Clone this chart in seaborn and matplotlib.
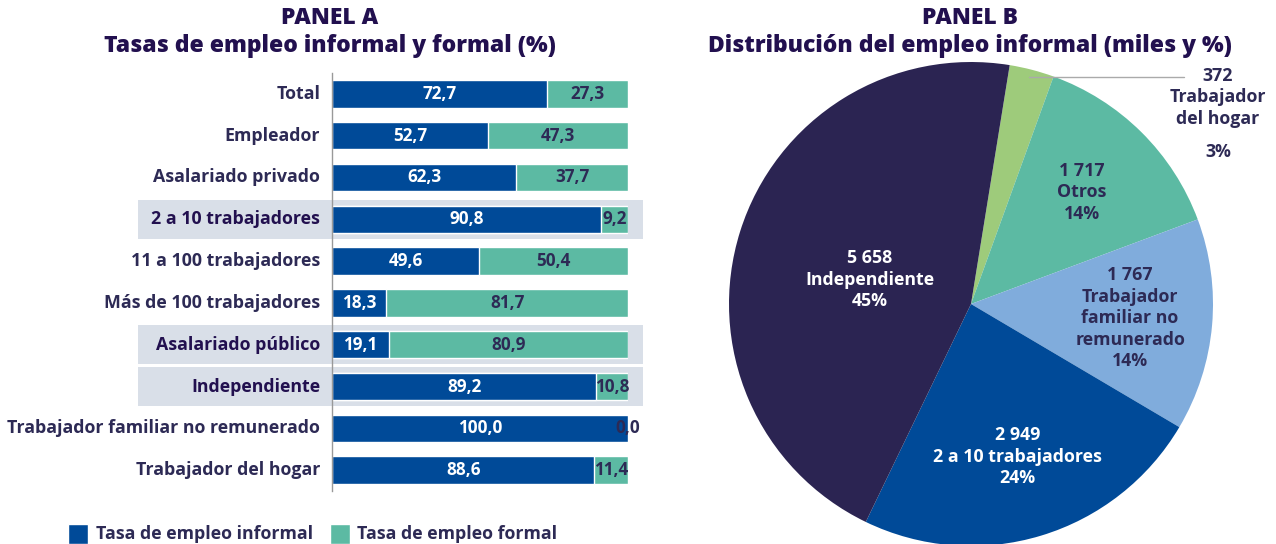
import matplotlib
matplotlib.use("Agg")
import matplotlib.pyplot as plt
import seaborn as sns
import numpy as np
import pandas as pd
from matplotlib.patches import Rectangle

sns.set_style("white")
plt.rcParams['font.family'] = ['Open Sans', 'Noto Sans', 'DejaVu Sans']

# panel A data
categorias = ['Total', 'Empleador', 'Asalariado privado', '2 a 10 trabajadores',
              '11 a 100 trabajadores', 'Más de 100 trabajadores', 'Asalariado público',
              'Independiente', 'Trabajador familiar no remunerado', 'Trabajador del hogar']
informal = [72.7, 52.7, 62.3, 90.8, 49.6, 18.3, 19.1, 89.2, 100.0, 88.6]
formal = [27.3, 47.3, 37.7, 9.2, 50.4, 81.7, 80.9, 10.8, 0.0, 11.4]
resaltadas = ['2 a 10 trabajadores', 'Asalariado público', 'Independiente']

# panel B data
pie_nombres = ['Trabajador\ndel hogar', 'Otros', 'Trabajador\nfamiliar no\nremunerado',
               '2 a 10 trabajadores', 'Independiente']
pie_miles = [372, 1717, 1767, 2949, 5658]
pie_pct = [3, 14, 14, 24, 45]

AZUL = '#004a98'
VERDE = '#5cbaa3'
MORADO = '#22104f'
TXT = '#2d2a55'
pie_colores = ['#9ecb7b', '#5cbaa3', '#80acdc', '#004a98', '#2b2452']

def fmt(v):
    return f'{v:.1f}'.replace('.', ',')

fig = plt.figure(figsize=(12.76, 5.44), dpi=100)

# ---- Panel A ----
ax = fig.add_axes([332/1276, 1 - 491/544, 296/1276, 418/544])
df = pd.DataFrame({'cat': categorias, 'inf': informal, 'for': formal})
df['tot'] = df['inf'] + df['for']
sns.barplot(data=df, x='tot', y='cat', color=VERDE, width=0.66, ax=ax, saturation=1)
sns.barplot(data=df, x='inf', y='cat', color=AZUL, width=0.66, ax=ax, saturation=1)
ax.set_xlim(0, 100)
ax.set_ylim(9.5, -0.5)
ax.set_xlabel('')
ax.set_ylabel('')
ax.set_xticks([])
ax.set_yticks([])
for s in ['top', 'right', 'bottom']:
    ax.spines[s].set_visible(False)
ax.spines['left'].set_color('#999999')
ax.spines['left'].set_linewidth(1)
ax.spines['left'].set_zorder(5)

for i, c in enumerate(categorias):
    hl = c in resaltadas
    if hl:
        ax.add_patch(Rectangle((-65.5, i - 0.46), 170.5, 0.92, facecolor='#d9dfe8',
                               edgecolor='none', clip_on=False, zorder=0))
    ax.text(-4, i, c, ha='right', va='center', fontsize=12.8, fontweight='bold',
            color=MORADO if hl else TXT)
    ax.text(informal[i] / 2, i, fmt(informal[i]), ha='center', va='center',
            fontsize=12.3, fontweight='bold', color='white')
    ax.text(informal[i] + formal[i] / 2, i, fmt(formal[i]), ha='center', va='center',
            fontsize=12.3, fontweight='bold', color=TXT)

fig.text(330/1276, 1 - 18/544, 'PANEL A', ha='center', va='center', fontsize=16.5,
         fontweight='heavy', color=MORADO)
fig.text(330/1276, 1 - 46/544, 'Tasas de empleo informal y formal (%)', ha='center',
         va='center', fontsize=16.5, fontweight='heavy', color=MORADO)

# legend
fig.patches.append(Rectangle((68/1276, 0), 20/1276, 20/544, facecolor=AZUL,
                             transform=fig.transFigure, figure=fig))
fig.text(96/1276, 10/544, 'Tasa de empleo informal', ha='left', va='center',
         fontsize=12.8, fontweight='bold', color=TXT)
fig.patches.append(Rectangle((330/1276, 0), 20/1276, 20/544, facecolor=VERDE,
                             transform=fig.transFigure, figure=fig))
fig.text(357/1276, 10/544, 'Tasa de empleo formal', ha='left', va='center',
         fontsize=12.8, fontweight='bold', color=TXT)

# ---- Panel B ----
axp = fig.add_axes([(971 - 242)/1276, (544 - 304 - 242)/544, 484/1276, 484/544])
wedges, _ = axp.pie(pie_miles, colors=pie_colores, startangle=80.8, counterclock=False,
                    radius=1, wedgeprops=dict(linewidth=0))
axp.set_xlim(-1, 1)
axp.set_ylim(-1, 1)
axp.set_aspect('equal')
axp.axis('off')

radios = [None, 0.65, 0.66, 0.66, 0.43]
giro = [0, 0, 0, 0, 4]
txtcol = [TXT, TXT, TXT, 'white', 'white']
for i, w in enumerate(wedges):
    if radios[i] is None:
        continue
    ang = np.deg2rad((w.theta1 + w.theta2) / 2 + giro[i])
    x, y = radios[i] * np.cos(ang), radios[i] * np.sin(ang)
    miles = f'{pie_miles[i]:,}'.replace(',', ' ')
    axp.text(x, y, f'{miles}\n{pie_nombres[i]}\n{pie_pct[i]}%', ha='center', va='center',
             fontsize=12.8, fontweight='bold', color=txtcol[i], linespacing=1.25)

# small slice label outside
axp.plot([0.24, 0.88], [0.94, 0.94], color='#aaaaaa', lw=1, clip_on=False)
axp.text(1.02, 0.98, f'{pie_miles[0]}\n{pie_nombres[0]}', ha='center', va='top',
         fontsize=12.8, fontweight='bold', color=TXT, linespacing=1.25)
axp.text(1.02, 0.63, f'{pie_pct[0]}%', ha='center', va='center',
         fontsize=12.8, fontweight='bold', color=TXT)

fig.text(970/1276, 1 - 18/544, 'PANEL B', ha='center', va='center', fontsize=16.5,
         fontweight='heavy', color=MORADO)
fig.text(970/1276, 1 - 46/544, 'Distribución del empleo informal (miles y %)', ha='center',
         va='center', fontsize=16.5, fontweight='heavy', color=MORADO)

fig.savefig('out.png', dpi=100)
